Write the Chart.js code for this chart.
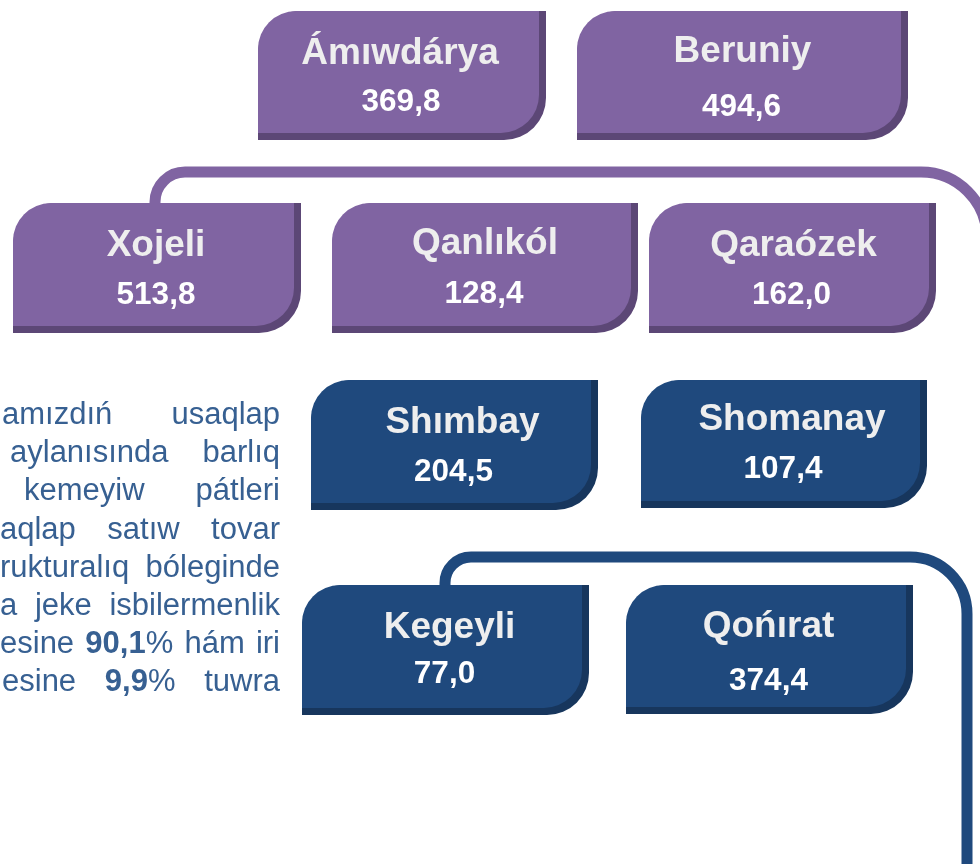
<!DOCTYPE html>
<html>
<head>
<meta charset="utf-8">
<script src="https://cdn.jsdelivr.net/npm/chart.js@4.4.0/dist/chart.umd.min.js"></script>
<style>
  html, body { margin: 0; padding: 0; background: #ffffff; overflow: hidden; }
  #wrap { position: relative; width: 980px; height: 864px; }
</style>
</head>
<body>
<div id="wrap"><canvas id="myChart" width="980" height="864"></canvas></div>
<script>
'use strict';

// districts and retail turnover values
let regions = ['Ámıwdárya', 'Beruniy', 'Xojeli', 'Qanlıkól', 'Qaraózek', 'Shımbay', 'Shomanay', 'Kegeyli', 'Qońırat'];
let volumes = [369.8, 494.6, 513.8, 128.4, 162.0, 204.5, 107.4, 77.0, 374.4];
let groups = [0, 0, 0, 0, 0, 1, 1, 1, 1];

// text on the left (cut by the frame)
let noteLines = [
  ['amızdıń', 'usaqlap'],
  ['aylanısında', 'barlıq'],
  ['kemeyiw', 'pátleri'],
  ['aqlap', 'satıw', 'tovar'],
  ['rukturalıq', 'bóleginde'],
  ['a', 'jeke', 'isbilermenlik'],
  ['esine', '*90,1*%', 'hám', 'iri'],
  ['esine', '*9,9*%', 'tuwra']
];

// ---- layout (chart units, 0..980 x 0..864) ----
// x, y, w, h, title dx, title baseline, value baseline
let boxes = [
  [258, 11, 288, 129, 0, 53, 100],
  [577, 11, 331, 129, 2, 51, 105],
  [13, 203, 288, 130, 1, 53, 101],
  [332, 203, 306, 130, 2, 51, 100],
  [649, 203, 287, 130, 3, 53, 101],
  [311, 380, 287, 130, 10, 53, 101],
  [641, 380, 286, 128, 10, 50, 98],
  [302, 585, 287, 130, 6, 53, 98],
  [626, 585, 287, 129, 1, 52, 105]
];
let noteStart = [2, 10, 24, 0, 0, 0, 0, 2];
let noteRight = 280;
let noteTop = 424;
let noteStep = 38.2;

let fills = ['#8064a2', '#1f497d'];
let shades = ['#5c4776', '#17365d'];

function toPoints(g) {
  let pts = [];
  for (let i = 0; i < regions.length; i++) {
    if (groups[i] === g) {
      let b = boxes[i];
      pts.push({ x: b[0] + b[2] / 2, y: b[1] + b[3] / 2, i: i });
    }
  }
  return pts;
}

function boxPath(ctx, x, y, w, h, r) {
  ctx.beginPath();
  ctx.moveTo(x, y + h);
  ctx.lineTo(x, y + r);
  ctx.arcTo(x, y, x + r, y, r);
  ctx.lineTo(x + w, y);
  ctx.lineTo(x + w, y + h - r);
  ctx.arcTo(x + w, y + h, x + w - r, y + h, r);
  ctx.lineTo(x, y + h);
  ctx.closePath();
}

function connector(ctx, sx, sy, pts, color) {
  // pts: corners [x, y, radius], last one is the end point
  ctx.save();
  ctx.strokeStyle = color;
  ctx.lineWidth = 11;
  ctx.beginPath();
  ctx.moveTo(sx, sy);
  for (let i = 0; i < pts.length - 1; i++) {
    ctx.arcTo(pts[i][0], pts[i][1], pts[i + 1][0], pts[i + 1][1], pts[i][2]);
  }
  let last = pts[pts.length - 1];
  ctx.lineTo(last[0], last[1]);
  ctx.stroke();
  ctx.restore();
}

let boxPlugin = {
  id: 'boxPlugin',
  beforeDatasetsDraw(chart) {
    let ctx = chart.ctx;
    let xs = chart.scales.x;
    let ys = chart.scales.y;
    let X = v => xs.getPixelForValue(v);
    let Y = v => ys.getPixelForValue(v);

    // connectors
    connector(ctx, X(155), Y(230), [[155, 172, 30], [987, 172, 66], [987, 864, 0]].map(p => [X(p[0]), Y(p[1]), p[2]]), fills[0]);
    connector(ctx, X(445), Y(600), [[445, 557, 26], [967, 557, 57], [967, 870, 0]].map(p => [X(p[0]), Y(p[1]), p[2]]), fills[1]);

    chart.data.datasets.forEach((ds, di) => {
      let meta = chart.getDatasetMeta(di);
      meta.data.forEach((el, k) => {
        let i = ds.data[k].i;
        let b = boxes[i];
        let w = X(b[0] + b[2]) - X(b[0]);
        let h = Y(b[1] + b[3]) - Y(b[1]);
        let x = el.x - w / 2;
        let y = el.y - h / 2;
        ctx.save();
        ctx.fillStyle = shades[di];
        boxPath(ctx, x, y, w, h, 42);
        ctx.fill();
        ctx.fillStyle = fills[di];
        boxPath(ctx, x, y, w - 7, h - 7, 38);
        ctx.fill();
        ctx.textAlign = 'center';
        ctx.textBaseline = 'alphabetic';
        ctx.fillStyle = '#eeeeee';
        ctx.font = 'bold 37px "Liberation Sans", Arial, sans-serif';
        ctx.fillText(regions[i], el.x - 2 + b[4], y + b[5]);
        ctx.fillStyle = '#ffffff';
        ctx.font = 'bold 31.5px "Liberation Sans", Arial, sans-serif';
        ctx.fillText(volumes[i].toFixed(1).replace('.', ','), el.x - 1, y + b[6]);
        ctx.restore();
      });
    });

    // justified note text
    ctx.save();
    ctx.fillStyle = '#376092';
    ctx.textBaseline = 'alphabetic';
    ctx.textAlign = 'left';
    let normal = '31px "Liberation Sans", Arial, sans-serif';
    let bold = 'bold 31px "Liberation Sans", Arial, sans-serif';
    noteLines.forEach((words, li) => {
      let runs = words.map(w => w.split('*').map((t, j) => ({ t: t, b: j % 2 === 1 })).filter(r => r.t.length));
      let widths = runs.map(rs => rs.reduce((s, r) => { ctx.font = r.b ? bold : normal; return s + ctx.measureText(r.t).width; }, 0));
      let total = widths.reduce((a, c) => a + c, 0);
      let left = noteStart[li];
      let gap = words.length > 1 ? (noteRight - left - total) / (words.length - 1) : 0;
      let cx = X(left);
      let by = Y(noteTop + li * noteStep);
      runs.forEach(rs => {
        rs.forEach(r => {
          ctx.font = r.b ? bold : normal;
          ctx.fillText(r.t, cx, by);
          cx += ctx.measureText(r.t).width;
        });
        cx += gap;
      });
    });
    ctx.restore();
  }
};

let ctx = document.getElementById('myChart').getContext('2d');
let myChart = new Chart(ctx, {
  type: 'scatter',
  data: {
    datasets: [
      { label: 'group 1', data: toPoints(0), pointRadius: 0 },
      { label: 'group 2', data: toPoints(1), pointRadius: 0 }
    ]
  },
  options: {
    responsive: false,
    animation: false,
    layout: { padding: 0 },
    plugins: { legend: { display: false }, tooltip: { enabled: false } },
    scales: {
      x: { type: 'linear', min: 0, max: 980, display: false },
      y: { type: 'linear', min: 0, max: 864, reverse: true, display: false }
    }
  },
  plugins: [boxPlugin]
});
</script>
</body>
</html>
